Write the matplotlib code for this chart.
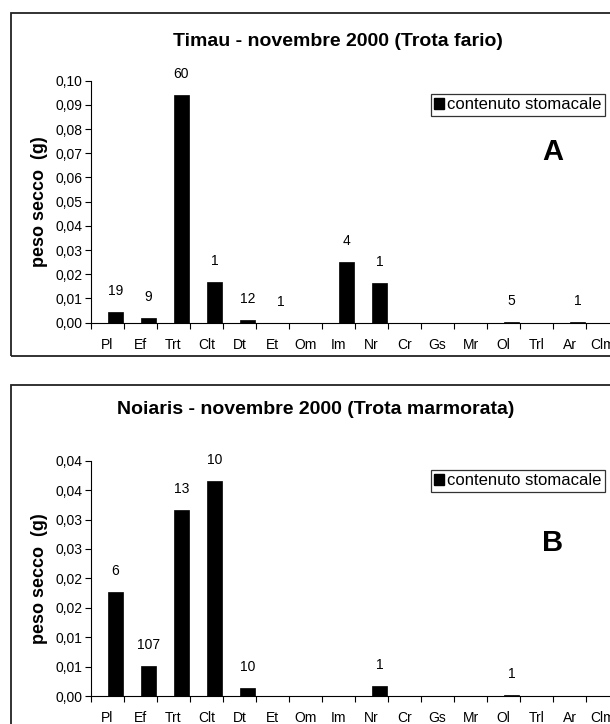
import numpy as np
import matplotlib
matplotlib.use("Agg")
import matplotlib.pyplot as plt
from matplotlib.patches import Patch, Rectangle

plt.rcParams["font.family"] = ["Liberation Sans", "DejaVu Sans"]

W, H = 610, 724

# categorie di prede
categorie = ["Pl", "Ef", "Trt", "Clt", "Dt", "Et", "Om", "Im", "Nr",
             "Cr", "Gs", "Mr", "Ol", "Trl", "Ar", "Clm"]

# Timau - peso secco (g) e numero di individui per categoria
peso_timau = [0.0045, 0.0020, 0.0942, 0.0168, 0.0012, 0.0, 0.0, 0.0252,
              0.0164, 0.0, 0.0, 0.0, 0.0004, 0.0, 0.0003, 0.0]
num_timau = ["19", "9", "60", "1", "12", "1", "", "4", "1",
             "", "", "", "5", "", "1", ""]

# Noiaris - peso secco (g) e numero di individui per categoria
peso_noiaris = [0.0177, 0.0051, 0.0316, 0.0365, 0.0013, 0.0, 0.0, 0.0,
                0.0017, 0.0, 0.0, 0.0, 0.0002, 0.0, 0.0, 0.0]
num_noiaris = ["6", "107", "13", "10", "10", "", "", "", "1",
               "", "", "", "1", "", "", ""]

# assi y
yticks_timau = [0.00, 0.01, 0.02, 0.03, 0.04, 0.05, 0.06, 0.07, 0.08, 0.09, 0.10]
ylabels_timau = ["0,00", "0,01", "0,02", "0,03", "0,04", "0,05",
                 "0,06", "0,07", "0,08", "0,09", "0,10"]
yticks_noiaris = [0.000, 0.005, 0.010, 0.015, 0.020, 0.025, 0.030, 0.035, 0.040]
ylabels_noiaris = ["0,00", "0,01", "0,01", "0,02", "0,02",
                   "0,03", "0,03", "0,04", "0,04"]


def fx(px):
    return px / W


def fy(py):
    return 1 - py / H


def pannello(fig, top, bottom, frame_top, frame_bottom, title_y, title_x,
             titolo, lettera, lettera_y, legend_y,
             pesi, numeri, yticks, ylabels):
    # cornice esterna del grafico
    fig.patches.append(Rectangle((fx(11), fy(frame_bottom)), fx(700),
                                 (frame_bottom - frame_top) / H,
                                 transform=fig.transFigure, fill=False,
                                 edgecolor="#222222", linewidth=1.3))

    ax = fig.add_axes([fx(91), fy(bottom), fx(619) - fx(91), (bottom - top) / H])
    x = np.arange(len(categorie))
    ax.bar(x + 0.74, pesi, width=0.48, color="black", edgecolor="black",
           linewidth=0.5, label="contenuto stomacale")

    # numero di individui sopra le barre
    for xi, p, n in zip(x, pesi, numeri):
        if n:
            ax.annotate(n, (xi + 0.74, p), xytext=(0, 10), textcoords="offset points",
                        ha="center", va="bottom", fontsize=10)

    ax.set_xlim(0, len(categorie))
    ax.set_ylim(yticks[0], yticks[-1])
    ax.set_yticks(yticks)
    ax.set_yticklabels(ylabels, fontsize=10)
    ax.set_xticks(np.arange(len(categorie) + 1))
    ax.set_xticklabels([])
    ax.set_xticks(x + 0.5, minor=True)
    ax.set_xticklabels(categorie, minor=True, fontsize=10)
    ax.tick_params(axis="both", which="major", direction="out", length=4, width=0.8)
    ax.tick_params(axis="x", which="minor", length=0, pad=11)
    ax.tick_params(axis="y", pad=2)
    for s in ["top", "right"]:
        ax.spines[s].set_visible(False)
    for s in ["left", "bottom"]:
        ax.spines[s].set_linewidth(0.8)

    fig.text(fx(title_x), fy(title_y), titolo, ha="center", va="center",
             fontsize=14, fontweight="bold")
    fig.text(fx(40), fy((top + bottom) / 2), "peso secco  (g)", rotation=90,
             ha="center", va="center", fontsize=13, fontweight="bold")
    fig.text(fx(553), fy(lettera_y), lettera, ha="center", va="center",
             fontsize=21, fontweight="bold")

    leg = fig.legend(handles=[Patch(facecolor="black", edgecolor="black")],
                     labels=["contenuto stomacale"],
                     loc="upper right", bbox_to_anchor=(fx(605), fy(legend_y)),
                     bbox_transform=fig.transFigure, fontsize=12,
                     frameon=True, fancybox=False, framealpha=1,
                     edgecolor="#333333", borderpad=0.2, borderaxespad=0,
                     handlelength=0.6, handleheight=0.6, handletextpad=0.2)
    leg.get_frame().set_linewidth(0.9)
    return ax


fig = plt.figure(figsize=(W / 100, H / 100), dpi=100)

pannello(fig, 80.7, 322.7, 13.3, 355.7, 42, 338,
         "Timau - novembre 2000 (Trota fario)", "A", 151.7, 94,
         peso_timau, num_timau, yticks_timau, ylabels_timau)

pannello(fig, 460.7, 696, 385, 900, 409, 316,
         "Noiaris - novembre 2000 (Trota marmorata)", "B", 543, 470,
         peso_noiaris, num_noiaris, yticks_noiaris, ylabels_noiaris)

fig.savefig("out.png", dpi=100)
